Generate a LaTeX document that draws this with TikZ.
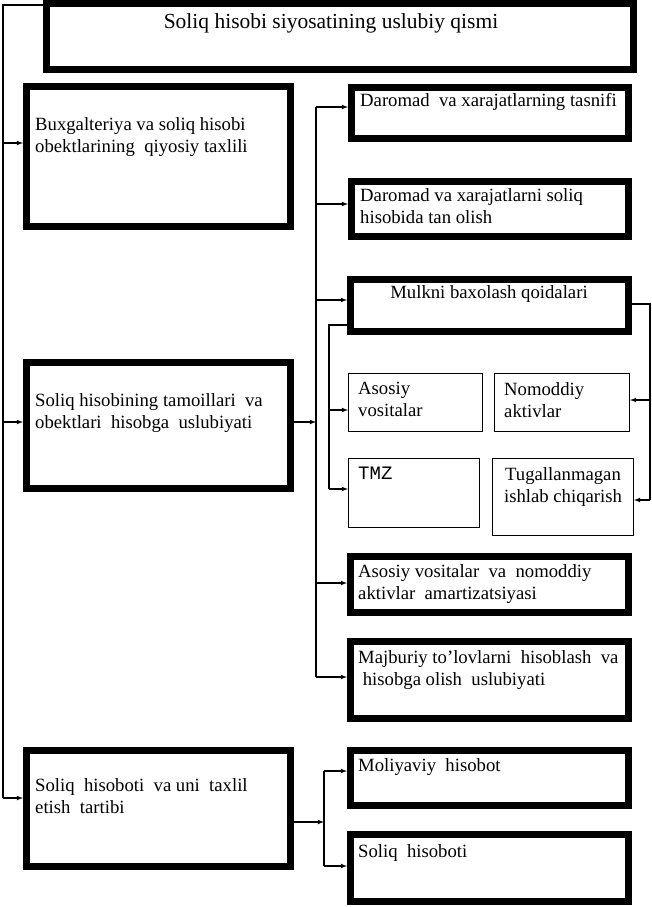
\documentclass[tikz,border=0pt]{standalone}
\usepackage{fontspec}
\setmainfont{Liberation Serif}
\newfontfamily\tmzfont{Liberation Mono}
\usetikzlibrary{positioning}

\begin{document}
\begin{tikzpicture}[x=1pt, y=-1pt, >=latex,
    thickbox/.style={draw, line width=7pt, inner sep=0pt, anchor=north west},
    thinbox/.style={draw, line width=1pt, inner sep=0pt, anchor=north west},
    txt/.style={inner sep=0pt, anchor=north west, align=left, font=\fontsize{18.7}{22}\selectfont},
    link/.style={line width=1.1pt}]

        % Page frame (reference proportions)
        \useasboundingbox (0,0) rectangle (651,907);

        % Title block
        \node[thickbox, minimum width=587pt, minimum height=66pt] (title) at (43,0) {};
        \node[txt, anchor=center, font=\fontsize{21.5}{24}\selectfont] (ttitle) at (331,23) {Soliq hisobi siyosatining uslubiy qismi};

        % Left column of main sections
        \node[thickbox, minimum width=264pt, minimum height=140pt] (b1) at (23,83) {};
        \node[thickbox, minimum width=264pt, minimum height=126pt] (b2) at (23,359) {};
        \node[thickbox, minimum width=264pt, minimum height=116pt] (b3) at (23,747) {};
        \node[txt] (tb1) at (35,117) {Buxgalteriya va soliq hisobi\\obektlarining\ \ qiyosiy taxlili};
        \node[txt] (tb2) at (35,393) {Soliq hisobining tamoillari\ \ va\\obektlari\ \ hisobga\ \ uslubiyati};
        \node[txt] (tb3) at (35,778) {Soliq\ \ hisoboti\ \ va uni\ \ taxlil\\etish\ \ tartibi};

        % Right column of sub-sections
        \node[thickbox, minimum width=277pt, minimum height=51pt] (r1) at (348,84) {};
        \node[thickbox, minimum width=277pt, minimum height=55pt] (r2) at (348,178) {};
        \node[thickbox, minimum width=278pt, minimum height=52pt] (r3) at (347,276) {};
        \node[thickbox, minimum width=278pt, minimum height=56pt] (r4) at (347,553) {};
        \node[thickbox, minimum width=278pt, minimum height=77pt] (r5) at (347,638) {};
        \node[thickbox, minimum width=278pt, minimum height=55pt] (r6) at (347,747) {};
        \node[thickbox, minimum width=278pt, minimum height=67pt] (r7) at (347,831) {};
        \node[txt] (tr1) at (360,93) {Daromad\ \ va xarajatlarning tasnifi};
        \node[txt] (tr2) at (360,188) {Daromad va xarajatlarni soliq\\hisobida tan olish};
        \node[txt, anchor=center] (tr3) at (489,294) {Mulkni baxolash qoidalari};
        \node[txt] (tr4) at (358,564) {Asosiy vositalar\ \ va\ \ nomoddiy\\aktivlar\ \ amartizatsiyasi};
        \node[txt] (tr5) at (358,650) {Majburiy to’lovlarni\ \ hisoblash\ \ va\\\ hisobga olish\ \ uslubiyati};
        \node[txt] (tr6) at (358,758) {Moliyaviy\ \ hisobot};
        \node[txt] (tr7) at (358,844) {Soliq\ \ hisoboti};

        % Property groups under the valuation rules
        \node[thinbox, minimum width=134pt, minimum height=58pt] (a) at (348,373) {};
        \node[thinbox, minimum width=135pt, minimum height=58pt] (n) at (494,373) {};
        \node[thinbox, minimum width=131pt, minimum height=69pt] (t) at (348,458) {};
        \node[thinbox, minimum width=141pt, minimum height=77pt] (u) at (492,458) {};
        \node[txt] (ta) at (358,382) {Asosiy\\vositalar};
        \node[txt] (tn) at (504,382) {Nomoddiy\\aktivlar};
        \node[txt, font=\fontsize{19}{22}\tmzfont] (tt) at (358,467) {TMZ};
        \node[txt, anchor=north, align=center] (tu) at (563,467) {Tugallanmagan\\ishlab chiqarish};

        % Left bus from the title block
        \coordinate (lb) at (3,5);
        \draw[link] (title.west |- lb) -- (lb) -- (3,798);
        \foreach \b/\y in {b1/143, b2/422, b3/798} {
            \draw[link, ->] (3,\y) -- (\b.west |- 0,\y);
        }

        % Middle bus
        \coordinate (mb) at (316,422);
        \draw[link] (316,107) -- (316,677);
        \draw[link, ->] (b2.east |- mb) -- (mb);
        \foreach \r/\y in {r1/107, r2/204, r3/300, r4/583, r5/677} {
            \draw[link, ->] (316,\y) -- (\r.west |- 0,\y);
        }

        % Bottom bus
        \coordinate (bb) at (324,822);
        \draw[link] (324,771) -- (324,866);
        \draw[link, ->] (b3.east |- bb) -- (bb);
        \draw[link, ->] (324,771) -- (r6.west |- 0,771);
        \draw[link, ->] (324,866) -- (r7.west |- 0,866);

        % Branches of the valuation rules
        \draw[link] (r3.west |- 0,325) -| (329,489);
        \draw[link, ->] (329,410) -- (a.west |- 0,410);
        \draw[link, ->] (329,489) -- (t.west |- 0,489);
        \draw[link] (r3.east |- 0,304) -| (650,500);
        \draw[link, ->] (650,400) -- (n.east |- 0,400);
        \draw[link, ->] (650,500) -- (u.east |- 0,500);

    \end{tikzpicture}
\end{document}
